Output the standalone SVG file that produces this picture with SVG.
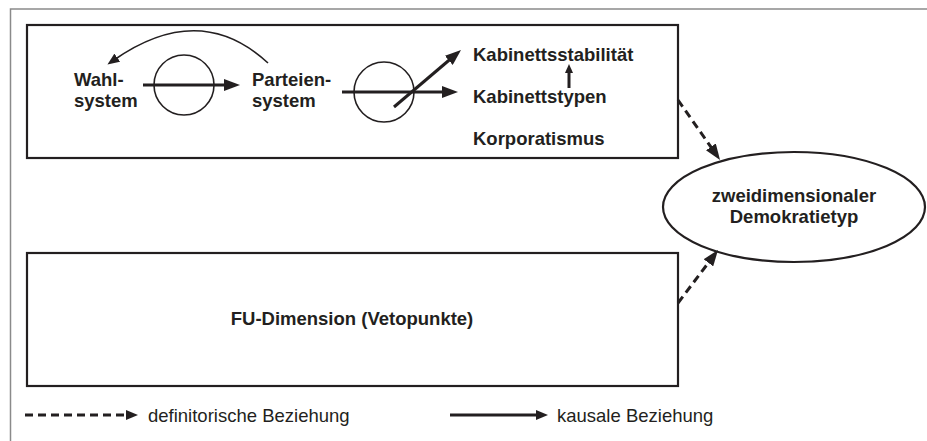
<svg xmlns="http://www.w3.org/2000/svg" width="927" height="441" viewBox="0 0 927 441">
  <style>
    .frame { fill: none; stroke: #8a8a8a; stroke-width: 1.5; }
    .box { fill: #ffffff; stroke: #231f20; stroke-width: 2.2; }
    .ring { fill: none; stroke: #231f20; stroke-width: 1.6; }
    .causal { fill: none; stroke: #231f20; stroke-width: 3; }
    .thin { fill: none; stroke: #231f20; stroke-width: 1.6; }
    .defin { fill: none; stroke: #231f20; stroke-width: 3; stroke-dasharray: 8 5; }
    .lbl { font-family: "Liberation Sans", Arial, Helvetica, sans-serif; font-size: 18.5px; font-weight: bold; fill: #231f20; }
    .legend { font-family: "Liberation Sans", Arial, Helvetica, sans-serif; font-size: 18.5px; fill: #231f20; }
  </style>
  <defs>
    <marker id="head" markerUnits="userSpaceOnUse" markerWidth="16" markerHeight="12" refX="6" refY="6" orient="auto">
      <path d="M0,0 L16,6 L0,12 z" fill="#231f20"/>
    </marker>
    <marker id="headSmall" markerUnits="userSpaceOnUse" markerWidth="12" markerHeight="10" refX="4" refY="5" orient="auto">
      <path d="M0,0 L12,5 L0,10 z" fill="#231f20"/>
    </marker>
    <marker id="headTiny" markerUnits="userSpaceOnUse" markerWidth="9" markerHeight="8" refX="3" refY="4" orient="auto">
      <path d="M0,0 L9,4 L0,8 z" fill="#231f20"/>
    </marker>
  </defs>

  <!-- page frame -->
  <path class="frame" d="M10.5,441 L10.5,9 L927,9"/>

  <!-- top box: MK dimension -->
  <g id="mk-box">
    <rect class="box" x="27" y="25" width="651" height="133"/>
  </g>

  <g id="wahlsystem">
    <text class="lbl" x="74" y="86">Wahl-</text>
    <text class="lbl" x="74" y="107">system</text>
  </g>

  <g id="parteiensystem">
    <text class="lbl" x="252" y="86">Parteien-</text>
    <text class="lbl" x="252" y="107">system</text>
  </g>

  <g id="ring-1">
    <circle class="ring" cx="184" cy="85" r="30"/>
  </g>
  <g id="ring-2">
    <circle class="ring" cx="384" cy="92" r="30"/>
  </g>

  <g id="kabinettsstabilitaet">
    <text class="lbl" x="473" y="61">Kabinettsstabilität</text>
  </g>
  <g id="kabinettstypen">
    <text class="lbl" x="473" y="103">Kabinettstypen</text>
  </g>
  <g id="korporatismus">
    <text class="lbl" x="473" y="145">Korporatismus</text>
  </g>

  <!-- bottom box: FU dimension -->
  <g id="fu-box">
    <rect class="box" x="27" y="253" width="651" height="133"/>
    <text class="lbl" x="352" y="325" text-anchor="middle">FU-Dimension (Vetopunkte)</text>
  </g>

  <!-- two-dimensional type -->
  <g id="demokratietyp">
    <ellipse class="box" cx="794" cy="207" rx="131" ry="55"/>
    <text class="lbl" x="794" y="202" text-anchor="middle">zweidimensionaler</text>
    <text class="lbl" x="794" y="223" text-anchor="middle">Demokratietyp</text>
  </g>

  <!-- connectors -->
  <g id="connectors">
    <line class="causal" x1="143" y1="85" x2="230" y2="85" marker-end="url(#head)"/>
    <path class="thin" d="M268,63 Q200,0 114,60" marker-end="url(#headSmall)"/>
    <line class="causal" x1="342" y1="92" x2="448" y2="92" marker-end="url(#head)"/>
    <line class="causal" x1="394" y1="107" x2="453.4" y2="56.5" marker-end="url(#head)"/>
    <line class="causal" x1="569" y1="88" x2="569" y2="70" stroke-width="2.2" marker-end="url(#headTiny)"/>
    <line class="defin" x1="678" y1="100" x2="714.3" y2="151.8" marker-end="url(#head)"/>
    <line class="defin" x1="678" y1="303" x2="712" y2="258" marker-end="url(#head)"/>
  </g>

  <!-- legend -->
  <g id="legend">
    <line class="defin" x1="25" y1="415" x2="130" y2="415" marker-end="url(#headSmall)"/>
    <text class="legend" x="148" y="422">definitorische Beziehung</text>
    <line class="causal" x1="450" y1="415" x2="540" y2="415" marker-end="url(#headSmall)"/>
    <text class="legend" x="557" y="422">kausale Beziehung</text>
  </g>
</svg>
